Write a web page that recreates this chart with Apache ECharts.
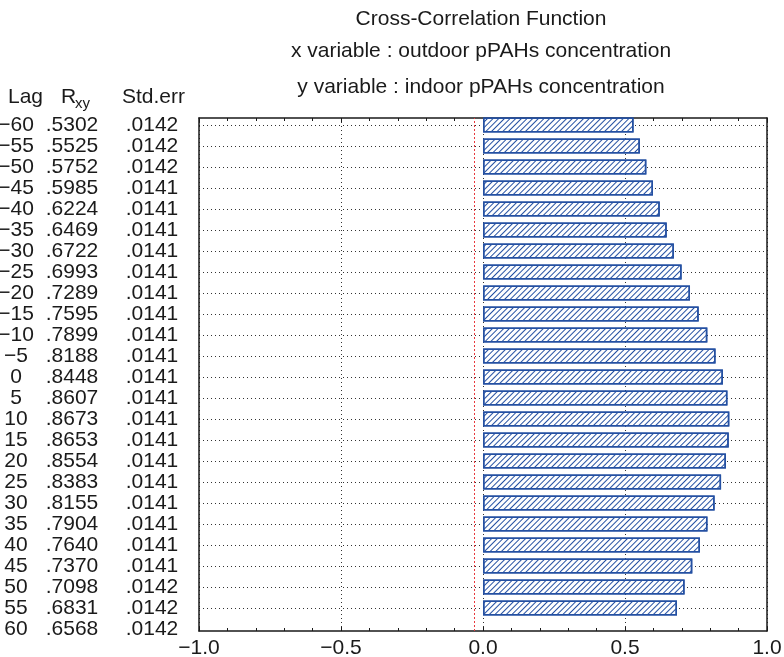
<!DOCTYPE html>
<html>
<head>
<meta charset="utf-8">
<script src="https://cdn.jsdelivr.net/npm/echarts@6/dist/echarts.min.js"></script>
<style>
  html, body { margin: 0; padding: 0; background: #fff; }
  #chart { width: 784px; height: 657px; }
</style>
</head>
<body>
<div id="chart"></div>
<script>
// Cross-correlation of outdoor vs indoor pPAHs concentration
const lags = [-60, -55, -50, -45, -40, -35, -30, -25, -20, -15, -10, -5, 0,
              5, 10, 15, 20, 25, 30, 35, 40, 45, 50, 55, 60];
const rxy = [0.5302, 0.5525, 0.5752, 0.5985, 0.6224, 0.6469, 0.6722, 0.6993,
             0.7289, 0.7595, 0.7899, 0.8188, 0.8448, 0.8607, 0.8673, 0.8653,
             0.8554, 0.8383, 0.8155, 0.7904, 0.7640, 0.7370, 0.7098, 0.6831, 0.6568];
const stdErr = [0.0142, 0.0142, 0.0142, 0.0141, 0.0141, 0.0141, 0.0141, 0.0141,
                0.0141, 0.0141, 0.0141, 0.0141, 0.0141, 0.0141, 0.0141, 0.0141,
                0.0141, 0.0141, 0.0141, 0.0141, 0.0141, 0.0141, 0.0142, 0.0142, 0.0142];
const xTicks = [-1.0, -0.5, 0.0, 0.5, 1.0];
const titleLines = [
  'Cross-Correlation Function',
  'x variable : outdoor pPAHs concentration',
  'y variable : indoor pPAHs concentration'
];

const FONT = '"Liberation Sans", Arial, Helvetica, sans-serif';
const INK = '#1a1a1a';
const BLUE = '#2450a2';

const minus = s => String(s).replace('-', '\u2212');
const dec4 = v => v.toFixed(4).replace(/^0/, '');
const tickText = v => {
  const t = xTicks.find(k => Math.abs(k - v) < 1e-9);
  return t === undefined ? '' : minus(t.toFixed(1));
};

// the lag 60 row sits on the lower frame and carries no bar
const barData = rxy.map((v, i) => (i === lags.length - 1 ? null : v));
// lower confidence limit (−2·SE) shown as the red dotted line
const lowerLimit = -2 * stdErr[lags.indexOf(0)];

const chart = echarts.init(document.getElementById('chart'), null, { renderer: 'canvas' });

const dotted = { type: [1, 3], color: '#333', width: 1 };

const option = {
  animation: false,
  backgroundColor: '#fff',
  textStyle: { fontFamily: FONT },
  grid: [
    { left: 199, right: 17, top: 118, bottom: 26, outerBoundsMode: 'none' },   // frame
    { left: 199, right: 17, top: 125, height: 504, outerBoundsMode: 'none' }   // bar rows
  ],
  xAxis: [
    {
      gridIndex: 0, type: 'value', min: -1, max: 1, interval: 0.5, position: 'bottom',
      axisLine: { show: true, onZero: false, lineStyle: { color: INK, width: 1.5 } },
      axisTick: { show: true, inside: true, length: 4, lineStyle: { color: INK } },
      minorTick: { show: true, splitNumber: 5, length: 3, lineStyle: { color: INK } },
      splitLine: { show: true, lineStyle: dotted },
      axisLabel: { fontSize: 21, color: INK, fontFamily: FONT, margin: 7, formatter: tickText }
    },
    {
      gridIndex: 0, type: 'value', min: -1, max: 1, interval: 0.5, position: 'top',
      axisLine: { show: true, onZero: false, lineStyle: { color: INK, width: 1.5 } },
      axisTick: { show: true, inside: true, length: 4, lineStyle: { color: INK } },
      minorTick: { show: true, splitNumber: 5, length: 3, lineStyle: { color: INK } },
      splitLine: { show: false },
      axisLabel: { show: false }
    },
    { gridIndex: 1, type: 'value', min: -1, max: 1, show: false }
  ],
  yAxis: [
    {
      gridIndex: 0, type: 'value', min: 0, max: 1, position: 'left',
      axisLine: { show: true, onZero: false, lineStyle: { color: INK, width: 1.5 } },
      axisTick: { show: false }, axisLabel: { show: false }, splitLine: { show: false }
    },
    {
      gridIndex: 0, type: 'value', min: 0, max: 1, position: 'right',
      axisLine: { show: true, onZero: false, lineStyle: { color: INK, width: 1.5 } },
      axisTick: { show: false }, axisLabel: { show: false }, splitLine: { show: false }
    },
    {
      gridIndex: 1, type: 'category', data: lags.map(String), inverse: true, boundaryGap: false,
      axisLine: { show: false }, axisTick: { show: false },
      splitLine: {
        show: true, lineStyle: dotted,
        interval: (idx) => idx < lags.length - 1
      },
      axisLabel: {
        interval: 0, margin: 7, align: 'right', color: INK, fontFamily: FONT, fontSize: 21,
        formatter: (val, i) =>
          `{lag|${minus(lags[i])}}{r|${dec4(rxy[i])}}{s|${dec4(stdErr[i])}}`,
        rich: {
          lag: { width: 32, align: 'right', fontSize: 21, color: INK, fontFamily: FONT },
          r: { width: 80, align: 'center', fontSize: 21, color: INK, fontFamily: FONT },
          s: { width: 80, align: 'center', fontSize: 21, color: INK, fontFamily: FONT }
        }
      }
    }
  ],
  series: [
    {
      type: 'line', xAxisIndex: 0, yAxisIndex: 0, data: [], silent: true,
      markLine: {
        silent: true, symbol: 'none',
        label: { show: false },
        lineStyle: { color: '#e8383d', type: [2, 2], width: 1 },
        data: [{ xAxis: lowerLimit }]
      }
    },
    {
      type: 'bar', xAxisIndex: 2, yAxisIndex: 2, data: barData, barWidth: 15,
      itemStyle: {
        color: '#ffffff',
        borderColor: BLUE, borderWidth: 1.5,
        decal: {
          symbol: 'rect', symbolSize: 1, color: BLUE,
          dashArrayX: [1, 0], dashArrayY: [1, 3],
          rotation: -Math.PI / 4
        }
      }
    }
  ],
  graphic: [
    ...titleLines.map((t, i) => ({
      type: 'text', x: 481, y: [19, 51, 87][i],
      style: { text: t, font: `21px ${FONT}`, fill: INK,
               textAlign: 'center', textVerticalAlign: 'middle',
               align: 'center', verticalAlign: 'middle' }
    })),
    { type: 'text', x: 8, y: 97,
      style: { text: 'Lag', font: `21px ${FONT}`, fill: INK,
               textAlign: 'left', textVerticalAlign: 'middle', align: 'left', verticalAlign: 'middle' } },
    { type: 'text', x: 61, y: 97,
      style: { text: 'R', font: `21px ${FONT}`, fill: INK,
               textAlign: 'left', textVerticalAlign: 'middle', align: 'left', verticalAlign: 'middle' } },
    { type: 'text', x: 75, y: 104,
      style: { text: 'xy', font: `15px ${FONT}`, fill: INK,
               textAlign: 'left', textVerticalAlign: 'middle', align: 'left', verticalAlign: 'middle' } },
    { type: 'text', x: 122, y: 97,
      style: { text: 'Std.err', font: `21px ${FONT}`, fill: INK,
               textAlign: 'left', textVerticalAlign: 'middle', align: 'left', verticalAlign: 'middle' } }
  ]
};

chart.setOption(option);
</script>
</body>
</html>
